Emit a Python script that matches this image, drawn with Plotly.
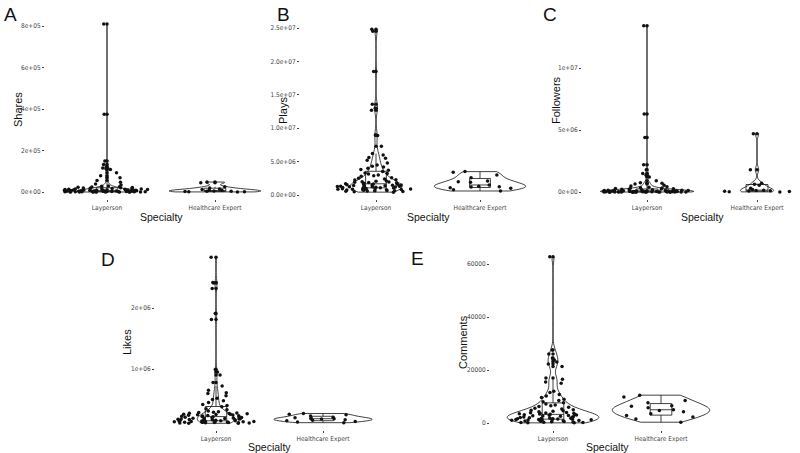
import plotly.graph_objects as go

W, H = 800, 453

categories = ["Layperson", "Healthcare Expert"]

# ---------------- data ----------------
shares_lay = [810000, 375000, 150000, 133000, 121000, 116000, 112000, 108000, 93000, 78000,
              69000, 56000, 47000, 38000, 33500, 29000, 27500, 25200, 24100, 22600, 21800,
              20100, 19300, 18000, 17600, 16400, 15900, 14700, 14300, 13400, 12800, 12500,
              11600, 11100, 10900, 10200, 9800, 9500, 9000, 8800, 8200, 8100, 7500, 7400,
              6900, 6800, 6300, 6200, 5800, 5700, 5200, 5100, 4800, 4700, 4300, 4200, 3900,
              3800, 3400, 3300, 3000, 2900, 2600, 2500, 2200, 2100, 1900, 1700, 1600, 1400,
              1300, 1100, 1000, 900, 750, 650, 520, 470, 360, 320, 230, 180, 110, 80, 30]
shares_he = [48000, 45000, 25000, 19500, 15000, 11800, 9200, 7100, 5300, 4100, 3200, 2100,
             1500, 900, 400]

plays_lay = [24800000, 24500000, 18500000, 13600000, 13000000, 12700000, 9000000, 8900000,
             7300000, 6200000, 6000000, 5600000, 5500000, 5200000, 4800000, 4500000, 4300000,
             4200000, 4000000, 3800000, 3700000, 3500000, 3300000, 3200000, 3150000, 3000000,
             2900000, 2800000, 2600000, 2500000, 2400000, 2300000, 2250000, 2100000, 2050000,
             2000000, 1950000, 1900000, 1870000, 1800000, 1760000, 1700000, 1680000, 1640000,
             1600000, 1550000, 1500000, 1480000, 1450000, 1420000, 1400000, 1380000, 1350000,
             1320000, 1300000, 1280000, 1250000, 1220000, 1200000, 1180000, 1150000, 1120000,
             1100000, 1080000, 1050000, 1000000, 980000, 950000, 920000, 900000, 870000,
             850000, 820000, 800000, 770000, 740000, 700000, 680000, 650000, 620000, 600000,
             560000, 520000, 480000, 430000]
plays_he = [3500000, 3400000, 3000000, 2600000, 2100000, 2000000, 1900000, 1500000, 1300000,
            1250000, 1200000, 1100000, 1000000, 800000, 600000]

followers_lay = [13400000, 6300000, 4400000, 2200000, 1800000, 1500000, 1350000, 1200000,
                 900000, 750000, 700000, 650000, 550000, 480000, 420000, 380000, 350000,
                 320000, 300000, 280000, 260000, 240000, 220000, 200000, 190000, 180000,
                 170000, 160000, 150000, 140000, 130000, 125000, 120000, 110000, 100000, 95000,
                 90000, 85000, 80000, 75000, 70000, 65000, 60000, 55000, 52000, 50000, 47000,
                 44000, 41000, 38000, 35000, 33000, 31000, 29000, 27000, 25000, 23000, 21000,
                 19000, 17000, 15000, 14000, 13000, 12000, 11000, 10000, 9000, 8000, 7000,
                 6000, 5000, 4500, 4000, 3500, 3000, 2500, 2000, 1500, 1200, 1000, 800, 600,
                 400, 200, 100]
followers_he = [4700000, 1800000, 700000, 620000, 550000, 300000, 200000, 150000, 120000,
                100000, 80000, 60000, 40000, 20000, 10000]

likes_lay = [2830000, 2420000, 2410000, 2320000, 1910000, 1810000, 990000, 950000, 900000,
             780000, 720000, 650000, 610000, 600000, 560000, 520000, 500000, 480000, 450000,
             420000, 400000, 380000, 350000, 330000, 310000, 300000, 290000, 285000, 280000,
             275000, 270000, 265000, 260000, 258000, 255000, 250000, 245000, 240000, 236000,
             232000, 228000, 224000, 220000, 216000, 212000, 208000, 204000, 200000, 197000,
             194000, 191000, 188000, 185000, 182000, 179000, 176000, 173000, 170000, 167000,
             164000, 161000, 158000, 155000, 152000, 150000, 148000, 146000, 144000, 142000,
             140000, 138000, 136000, 134000, 132000, 130000, 128000, 126000, 124000, 122000,
             120000, 118000, 116000, 114000, 112000, 110000]
likes_he = [270000, 260000, 250000, 230000, 210000, 200000, 190000, 185000, 180000, 170000,
            160000, 150000, 140000, 130000, 120000]

comments_lay = [62700, 27500, 26000, 24500, 23800, 23000, 22300, 21300, 17000, 16500, 15500,
                15000, 12000, 11500, 10800, 10200, 9600, 9000, 8500, 8000, 7600, 7200, 6800,
                6500, 6200, 5900, 5600, 5300, 5000, 4800, 4600, 4400, 4200, 4000, 3900, 3800,
                3700, 3600, 3500, 3400, 3300, 3200, 3100, 3000, 2900, 2800, 2700, 2600, 2500,
                2400, 2300, 2200, 2100, 2000, 1900, 1800, 1700, 1650, 1600, 1550, 1500, 1450,
                1400, 1350, 1300, 1250, 1200, 1100, 1000, 950, 900, 850, 800, 700, 600, 500,
                400, 300, 200, 150, 100, 50]
comments_he = [10500, 9800, 8500, 7600, 6500, 6300, 5800, 5000, 4700, 4200, 3500, 2800, 2300,
               1500, 300]

# tick labels
shares_ticks = [0, 200000, 400000, 600000, 800000]
shares_ticktext = ["0e+00", "2e+05", "4e+05", "6e+05", "8e+05"]
plays_ticks = [0, 5e6, 1e7, 1.5e7, 2e7, 2.5e7]
plays_ticktext = ["0.0e+00", "5.0e+06", "1.0e+07", "1.5e+07", "2.0e+07", "2.5e+07"]
followers_ticks = [0, 5e6, 1e7]
followers_ticktext = ["0e+00", "5e+06", "1e+07"]
likes_ticks = [1e6, 2e6]
likes_ticktext = ["1e+06", "2e+06"]
comments_ticks = [0, 20000, 40000, 60000]
comments_ticktext = ["0", "20000", "40000", "60000"]

# ---------------- panel geometry (pixels) ----------------
panels = [
    dict(letter="A", title="Shares", lay=shares_lay, he=shares_he,
         ticks=shares_ticks, ticktext=shares_ticktext,
         xpx=(45, 265), cpx=(107, 215), ypx=(15, 199), yref=((0, 192), (8e5, 26)),
         vw=(0.55, 0.85), letter_xy=(10, 15), ytitle_xy=(18, 110), xtitle_y=217),
    dict(letter="B", title="Plays", lay=plays_lay, he=plays_he,
         ticks=plays_ticks, ticktext=plays_ticktext,
         xpx=(300, 530), cpx=(376, 480), ypx=(15, 199), yref=((0, 195), (2.5e7, 28)),
         vw=(0.5, 0.88), letter_xy=(283, 14), ytitle_xy=(283, 111), xtitle_y=217),
    dict(letter="C", title="Followers", lay=followers_lay, he=followers_he,
         ticks=followers_ticks, ticktext=followers_ticktext,
         xpx=(582, 800), cpx=(647, 757), ypx=(15, 199), yref=((0, 192), (1e7, 68)),
         vw=(0.85, 0.3), letter_xy=(550, 15), ytitle_xy=(556, 100), xtitle_y=217),
    dict(letter="D", title="Likes", lay=likes_lay, he=likes_he,
         ticks=likes_ticks, ticktext=likes_ticktext,
         xpx=(155, 415), cpx=(216, 323), ypx=(250, 430), yref=((1e6, 369), (2e6, 308)),
         vw=(0.35, 0.92), letter_xy=(108, 259), ytitle_xy=(127, 342), xtitle_y=447),
    dict(letter="E", title="Comments", lay=comments_lay, he=comments_he,
         ticks=comments_ticks, ticktext=comments_ticktext,
         xpx=(490, 730), cpx=(553, 661), ypx=(250, 430), yref=((0, 423), (60000, 264)),
         vw=(0.85, 0.9), letter_xy=(417, 258), ytitle_xy=(463, 342), xtitle_y=447),
]

fig = go.Figure()
annotations = []
BLACK = "#111111"
TICKC = "#444444"
NARROW = "DejaVu Sans Condensed, Liberation Sans Narrow, Liberation Sans, sans-serif"
SANS = "Liberation Sans, Arial, sans-serif"

for i, p in enumerate(panels):
    n = "" if i == 0 else str(i + 1)
    xa, ya = "x" + n, "y" + n
    L, R = p["xpx"]
    c0, c1 = p["cpx"]
    sp = c1 - c0
    xr = [-(c0 - L) / sp, 1 + (R - c1) / sp]
    (va, pa), (vb, pb) = p["yref"]
    slope = (vb - va) / (pb - pa)
    T, B = p["ypx"]
    yr = [va + (B - pa) * slope, va + (T - pa) * slope]

    for cat, vals, vw in [(categories[0], p["lay"], p["vw"][0]),
                          (categories[1], p["he"], p["vw"][1])]:
        xs = [cat] * len(vals)
        fig.add_trace(go.Violin(
            x=xs, y=vals, xaxis=xa, yaxis=ya, width=vw, spanmode="hard",
            points=False, line=dict(color=BLACK, width=0.8),
            fillcolor="rgba(255,255,255,0)", scalemode="width",
            box_visible=False, meanline_visible=False, hoverinfo="skip",
            showlegend=False))
        fig.add_trace(go.Box(
            x=xs, y=vals, xaxis=xa, yaxis=ya, width=0.2, boxpoints="outliers",
            pointpos=0, jitter=0, whiskerwidth=0,
            line=dict(color=BLACK, width=0.8), fillcolor="rgba(255,255,255,0)",
            marker=dict(color=BLACK, size=3.5), hoverinfo="skip", showlegend=False))
        fig.add_trace(go.Box(
            x=xs, y=vals, xaxis=xa, yaxis=ya, width=0.8, boxpoints="all",
            pointpos=0, jitter=1, whiskerwidth=0,
            line=dict(color="rgba(0,0,0,0)", width=0), fillcolor="rgba(0,0,0,0)",
            marker=dict(color=BLACK, size=3.5), hoverinfo="skip", showlegend=False))

    axis_common = dict(showgrid=False, zeroline=False, showline=False, ticks="outside",
                       ticklen=2, tickwidth=0.6, tickcolor=TICKC,
                       tickfont=dict(family=NARROW, size=6.5, color=TICKC))
    fig.layout["xaxis" + n] = dict(
        axis_common, domain=[L / W, R / W], anchor=ya, type="category",
        categoryorder="array", categoryarray=categories, range=xr)
    fig.layout["yaxis" + n] = dict(
        axis_common, domain=[1 - B / H, 1 - T / H], anchor=xa, range=yr,
        tickvals=p["ticks"], ticktext=p["ticktext"])

    lx, ly = p["letter_xy"]
    annotations.append(dict(text=p["letter"], x=lx / W, y=1 - ly / H, xref="paper",
                            yref="paper", showarrow=False, xanchor="center", yanchor="middle",
                            font=dict(family=SANS, size=19, color=BLACK)))
    tx, ty = p["ytitle_xy"]
    annotations.append(dict(text=p["title"], x=tx / W, y=1 - ty / H, xref="paper",
                            yref="paper", showarrow=False, textangle=-90,
                            xanchor="center", yanchor="middle",
                            font=dict(family=SANS, size=11, color=BLACK)))
    annotations.append(dict(text="Specialty", x=(c0 + c1) / 2 / W, y=1 - p["xtitle_y"] / H,
                            xref="paper", yref="paper", showarrow=False,
                            xanchor="center", yanchor="middle",
                            font=dict(family=SANS, size=10.5, color=BLACK)))

fig.update_layout(
    template="none",
    width=W, height=H, margin=dict(l=0, r=0, t=0, b=0),
    paper_bgcolor="white", plot_bgcolor="white",
    violinmode="overlay", boxmode="overlay",
    annotations=annotations, showlegend=False,
)

fig.write_html("out.html", config={"displayModeBar": False},
               post_script="document.body.style.margin='0px';document.body.style.overflow='hidden';")
